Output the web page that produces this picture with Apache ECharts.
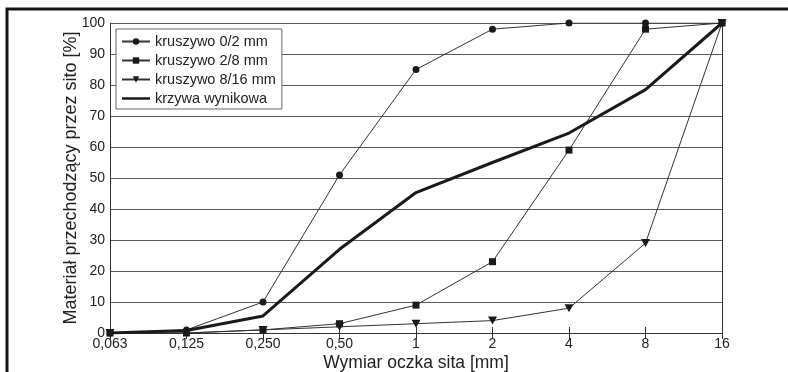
<!DOCTYPE html>
<html>
<head>
<meta charset="utf-8">
<script src="https://cdn.jsdelivr.net/npm/echarts@6/dist/echarts.min.js"></script>
<style>
  html, body { margin: 0; padding: 0; background: #fff; }
  #chart { width: 788px; height: 372px; }
</style>
</head>
<body>
<div id="chart"></div>
<script>
// oczka sit [mm]
const sieves = ['0,063', '0,125', '0,250', '0,50', '1', '2', '4', '8', '16']

// przesiew [%]
const k02 = [0, 1, 10, 51, 85, 98, 100, 100, 100]
const k28 = [0, 0, 1, 3, 9, 23, 59, 98, 100]
const k816 = [0, 0, 1, 2, 3, 4, 8, 29, 100]
const wynik = [0, 0.8, 5.5, 27, 45.3, 55, 64.5, 78.5, 100]

const names = ['kruszywo 0/2 mm', 'kruszywo 2/8 mm', 'kruszywo 8/16 mm', 'krzywa wynikowa']

const font = 'Arial, "Liberation Sans", sans-serif'
const thin = { color: '#333', width: 1 }
// gruba kreska w legendzie (narożne drobinki trzymają wysokość ikony)
const thickIcon = 'path://M0,0 L0.01,0 L0,0.01 Z M0,2.6 L30,2.6 L30,5.4 L0,5.4 Z M0,8 L0.01,8 L0,7.99 Z'

const chart = echarts.init(document.getElementById('chart'))

chart.setOption({
  animation: false,
  backgroundColor: '#fff',
  textStyle: { fontFamily: font },
  grid: { left: 110, right: 66, top: 23, bottom: 39, outerBoundsMode: 'none' },
  legend: {
    orient: 'vertical',
    left: 116,
    top: 29,
    padding: [5, 6, 3, 5],
    itemGap: 4,
    itemWidth: 28,
    itemHeight: 8,
    backgroundColor: '#fff',
    borderColor: '#666',
    borderWidth: 1,
    textStyle: { fontSize: 14.5, color: '#222', fontFamily: font },
    data: [
      names[0], names[1], names[2],
      { name: names[3], icon: thickIcon, itemStyle: { color: '#1a1a1a' } }
    ]
  },
  xAxis: [
    {
      type: 'category',
      data: sieves,
      boundaryGap: false,
      name: 'Wymiar oczka sita [mm]',
      nameLocation: 'middle',
      nameGap: 21,
      nameMoveOverlap: false,
      nameTextStyle: { fontSize: 17.5, color: '#222' },
      axisLine: { lineStyle: { color: '#333', width: 1 } },
      axisTick: { inside: true, length: 6, lineStyle: { color: '#333' } },
      axisLabel: { fontSize: 14, color: '#222', margin: 4 }
    },
    {
      type: 'category',
      data: sieves,
      boundaryGap: false,
      position: 'top',
      axisLine: { lineStyle: { color: '#333', width: 1 } },
      axisTick: { inside: true, length: 6, lineStyle: { color: '#333' } },
      axisLabel: { show: false }
    }
  ],
  yAxis: [
    {
      type: 'value',
      min: 0,
      max: 100,
      interval: 10,
      name: 'Materiał przechodzący przez sito [%]',
      nameLocation: 'middle',
      nameGap: 30,
      nameMoveOverlap: false,
      nameTextStyle: { fontSize: 18, color: '#222' },
      axisLine: { show: true, lineStyle: { color: '#333', width: 1 } },
      axisTick: { show: false },
      axisLabel: { fontSize: 14, color: '#222', margin: 5 },
      splitLine: { lineStyle: { color: '#5a5a5a', width: 1 } }
    },
    {
      type: 'value',
      min: 0,
      max: 100,
      interval: 10,
      position: 'right',
      axisLine: { show: true, lineStyle: { color: '#333', width: 1 } },
      axisTick: { show: false },
      axisLabel: { show: false },
      splitLine: { show: false }
    }
  ],
  graphic: [
    {
      type: 'polyline',
      silent: true,
      shape: { points: [[7, 372], [7, 9], [788, 9]] },
      style: { stroke: '#151515', lineWidth: 3, fill: null }
    }
  ],
  series: [
    {
      name: names[0], type: 'line', data: k02,
      symbol: 'circle', symbolSize: 7,
      lineStyle: thin, itemStyle: { color: '#1a1a1a' }
    },
    {
      name: names[1], type: 'line', data: k28,
      symbol: 'rect', symbolSize: 7,
      lineStyle: thin, itemStyle: { color: '#1a1a1a' }
    },
    {
      name: names[2], type: 'line', data: k816,
      symbol: 'path://M0,0 L10,0 L5,9 Z', symbolSize: [9, 8],
      lineStyle: thin, itemStyle: { color: '#1a1a1a' }
    },
    {
      name: names[3], type: 'line', data: wynik,
      symbol: 'none', z: 3,
      lineStyle: { color: '#1a1a1a', width: 3 }, itemStyle: { color: '#1a1a1a' }
    }
  ]
})
</script>
</body>
</html>
